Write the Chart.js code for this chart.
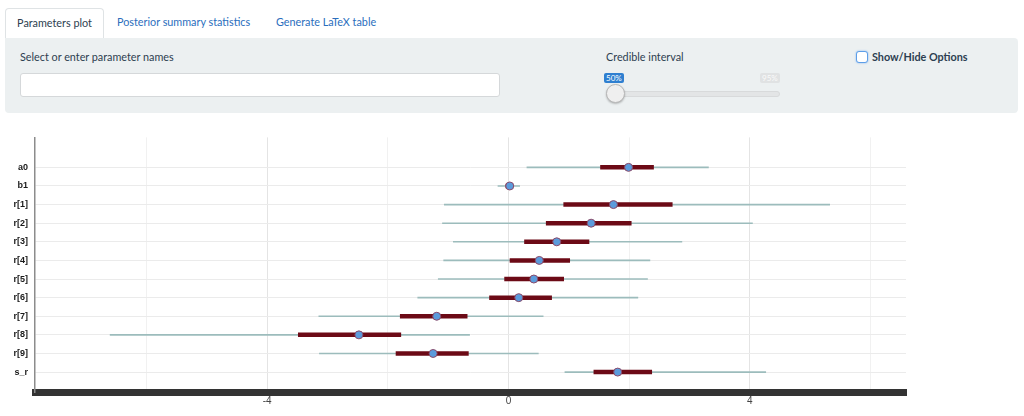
<!DOCTYPE html>
<html>
<head>
<meta charset="utf-8">
<script src="https://cdn.jsdelivr.net/npm/chart.js@4.4.1/dist/chart.umd.min.js"></script>
<style>
  body { margin: 0; width: 1024px; height: 416px; overflow: hidden; background: #fff; font-family: Lato, "Open Sans", sans-serif; position: relative; }
  .tab { position: absolute; top: 8px; height: 30px; line-height: 28px; font-size: 10.8px; color: #2a6ebd; }
  .tab.active { left: 5px; width: 97px; border: 1px solid #dfe3e5; border-bottom: none; border-radius: 4px 4px 0 0; background: #fff; color: #2c3e50; text-align: center; }
  #panel { position: absolute; left: 5px; top: 38px; width: 1013px; height: 75px; background: #ecf0f1; border-radius: 0 4px 4px 4px; }
  .lbl { position: absolute; font-size: 10.8px; color: #2c3e50; }
  #pinput { position: absolute; left: 15px; top: 35px; width: 478px; height: 22px; background: #fff; border: 1px solid #d5d8da; border-radius: 3px; }
  #track { position: absolute; left: 601px; top: 53px; width: 172px; height: 4px; background: #e3e5e6; border: 1px solid #d8dadb; border-radius: 3px; }
  #knob { position: absolute; left: 601px; top: 46px; width: 17px; height: 17px; border-radius: 50%; background: #efefef; border: 1px solid #b8b8b8; box-shadow: 0 1px 2px rgba(0,0,0,0.25); }
  .sl { position: absolute; top: 35px; height: 10px; line-height: 10px; font-size: 8px; padding: 0 2px; border-radius: 2px; }
  #chk { position: absolute; left: 851px; top: 13px; width: 10px; height: 10px; border: 1px solid #5d9ee8; border-radius: 3px; background: #fff; box-shadow: 0 0 2px #7ab0f0; }
  #wrap { position: absolute; left: 0; top: 125px; }
</style>
</head>
<body>
<div class="tab active">Parameters plot</div>
<div class="tab" style="left:117px">Posterior summary statistics</div>
<div class="tab" style="left:276px">Generate LaTeX table</div>
<div id="panel">
  <div class="lbl" style="left:15px;top:12px">Select or enter parameter names</div>
  <div id="pinput"></div>
  <div class="lbl" style="left:601px;top:12px">Credible interval</div>
  <div class="sl" style="left:599px;background:#2f7fd0;color:#fff">50%</div>
  <div class="sl" style="left:755px;background:#e0e2e3;color:#fafafa">95%</div>
  <div id="track"></div>
  <div id="knob"></div>
  <div id="chk"></div>
  <div class="lbl" style="left:867px;top:12px;font-weight:bold">Show/Hide Options</div>
</div>
<div id="wrap"><canvas id="plot" width="1024" height="291"></canvas></div>
<script>
const params = ['a0', 'b1', 'r[1]', 'r[2]', 'r[3]', 'r[4]', 'r[5]', 'r[6]', 'r[7]', 'r[8]', 'r[9]', 's_r'];
const medians = [1.99, 0.02, 1.74, 1.37, 0.80, 0.51, 0.42, 0.17, -1.19, -2.48, -1.25, 1.81];
const innerLo = [1.52, -0.05, 0.91, 0.62, 0.26, 0.02, -0.07, -0.32, -1.80, -3.49, -1.87, 1.41];
const innerHi = [2.41, 0.08, 2.72, 2.04, 1.34, 1.02, 0.92, 0.72, -0.68, -1.78, -0.66, 2.38];
const outerLo = [0.30, -0.18, -1.07, -1.10, -0.92, -1.08, -1.17, -1.51, -3.15, -6.61, -3.14, 0.93];
const outerHi = [3.32, 0.19, 5.33, 4.05, 2.88, 2.35, 2.31, 2.15, 0.58, -0.64, 0.50, 4.27];
const xTicks = [-6, -4, -2, 0, 2, 4, 6];

var datasets = [];

params.forEach((p, i) => {
    datasets.push({
        data: [{x: outerLo[i], y: i}, {x: outerHi[i], y: i}],
        showLine: true,
        borderColor: '#9cbcbc',
        borderWidth: 1.6,
        pointRadius: 0,
        order: 3
    })
    datasets.push({
        data: [{x: innerLo[i], y: i}, {x: innerHi[i], y: i}],
        showLine: true,
        borderColor: '#6c0a16',
        borderWidth: 4.5,
        pointRadius: 0,
        order: 2
    })
})

datasets.push({
    data: medians.map((m, i) => ({x: m, y: i})),
    pointRadius: 4,
    backgroundColor: '#5b9bdc',
    borderColor: '#8a4a6a',
    borderWidth: 1,
    order: 1
})

new Chart(document.getElementById('plot'), {
    type: 'scatter',
    data: { datasets: datasets },
    options: {
        responsive: false,
        animation: false,
        layout: { padding: { top: 12, right: 118, left: 0, bottom: 0 } },
        plugins: { legend: { display: false }, tooltip: { enabled: false } },
        scales: {
            x: {
                min: -7.85,
                max: 6.59,
                afterBuildTicks: (scale) => { scale.ticks = xTicks.map(v => ({ value: v })) },
                afterFit: (scale) => { scale.height = 24 },
                ticks: {
                    callback: (v) => (v % 4 === 0 ? String(v) : ''),
                    font: { family: 'Arial', size: 10 },
                    color: '#444',
                    padding: 3,
                    maxRotation: 0
                },
                grid: {
                    drawTicks: false,
                    color: (ctx) => (ctx.tick && ctx.tick.value % 4 === 0 ? '#e4e4e4' : '#f1f1f1')
                },
                border: { display: true, color: '#333333', width: 7 }
            },
            y: {
                reverse: true,
                min: -1.61,
                max: 12.07,
                afterBuildTicks: (scale) => { scale.ticks = params.map((p, i) => ({ value: i })) },
                afterFit: (scale) => { scale.width = 35 },
                ticks: {
                    callback: (v) => params[v] || '',
                    font: { family: 'Arial', size: 9, weight: 'bold' },
                    color: '#1a1a1a',
                    padding: 7
                },
                grid: { drawTicks: false, color: '#ebebeb' },
                border: { display: true, color: '#8c8c8c', width: 1.5 }
            }
        }
    }
});
</script>
</body>
</html>
